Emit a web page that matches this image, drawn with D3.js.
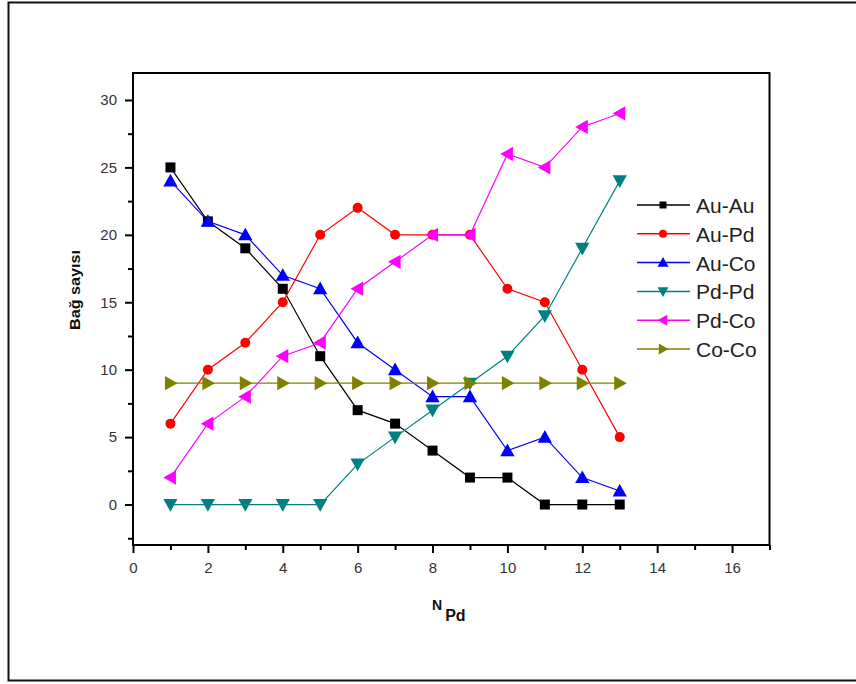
<!DOCTYPE html>
<html><head><meta charset="utf-8">
<script src="https://cdn.jsdelivr.net/npm/d3@7"></script>
<style>body{margin:0;background:#fff}svg{display:block}text{font-family:Arial,"Liberation Sans",sans-serif}</style>
</head><body>
<script>
const xValues = [1,2,3,4,5,6,7,8,9,10,11,12,13];
const auAu = [25,21,19,16,11,7,6,4,2,2,0,0,0];
const auPd = [6,10,12,15,20,22,20,20,20,16,15,10,5];
const auCo = [24,21,20,17,16,12,10,8,8,4,5,2,1];
const pdPd = [0,0,0,0,0,3,5,7,9,11,14,19,24];
const pdCo = [2,6,8,11,12,16,18,20,20,26,25,28,29];
const coCo = [9,9,9,9,9,9,9,9,9,9,9,9,9];
const seriesNames = ["Au-Au","Au-Pd","Au-Co","Pd-Pd","Pd-Co","Co-Co"];
const seriesColors = ["#000000","#ff0000","#0000ff","#008080","#ff00ff","#808000"];
const seriesSymbols = ["square","circle","up","down","left","right"];
const seriesData = [auAu,auPd,auCo,pdPd,pdCo,coCo];
const xTicks = [0,2,4,6,8,10,12,14,16];
const yTicks = [0,5,10,15,20,25,30];

const W=856,H=684;
const svg=d3.select("body").append("svg").attr("width",W).attr("height",H);
svg.append("rect").attr("width",W).attr("height",H).attr("fill","#fff");
// outer frame
svg.append("path").attr("d","M860,2.5 H8.5 V680.5 H860").attr("fill","none").attr("stroke","#111").attr("stroke-width",2);

const L=133,R=769.5,T=73,B=545;
const x=d3.scaleLinear().domain([0,17]).range([L,R]);
const y=d3.scaleLinear().domain([-3,32]).range([B,T]);

// frame box
svg.append("rect").attr("x",L).attr("y",T).attr("width",R-L).attr("height",B-T)
  .attr("fill","none").attr("stroke","#000").attr("stroke-width",2);

// x axis
const gx=svg.append("g").attr("transform",`translate(0,${B})`);
gx.call(d3.axisBottom(x).tickValues(xTicks).tickSize(8).tickPadding(9).tickFormat(d3.format("d")));
gx.append("g").call(d3.axisBottom(x).tickValues([1,3,5,7,9,11,13,15,17]).tickSize(5).tickFormat(""));
// y axis
const gy=svg.append("g").attr("transform",`translate(${L},0)`);
gy.call(d3.axisLeft(y).tickValues(yTicks).tickSize(8).tickPadding(8).tickFormat(d3.format("d")));
gy.append("g").call(d3.axisLeft(y).tickValues([-2.5,2.5,7.5,12.5,17.5,22.5,27.5]).tickSize(5).tickFormat(""));
svg.selectAll(".domain").remove();
svg.selectAll(".tick line").attr("stroke","#000").attr("stroke-width",2);
svg.selectAll(".tick text").attr("font-size",15).attr("fill","#333").attr("font-family","Arial, 'Liberation Sans', sans-serif");

function symPath(type,s){
  const h=s/2;
  if(type==="square") return `M${-h},${-h}H${h}V${h}H${-h}Z`;
  if(type==="up") return `M0,${-h*1.1}L${h*1.1},${h*0.85}L${-h*1.1},${h*0.85}Z`;
  if(type==="down") return `M0,${h*1.1}L${h*1.1},${-h*0.85}L${-h*1.1},${-h*0.85}Z`;
  if(type==="left") return `M${-h*1.1},0L${h*0.85},${-h*1.1}L${h*0.85},${h*1.1}Z`;
  if(type==="right") return `M${h*1.1},0L${-h*0.85},${-h*1.1}L${-h*0.85},${h*1.1}Z`;
  return null;
}
function drawSym(g,type,cx,cy,s,color){
  if(type==="circle") g.append("circle").attr("cx",cx).attr("cy",cy).attr("r",s/2).attr("fill",color);
  else g.append("path").attr("d",symPath(type,s)).attr("transform",`translate(${cx},${cy})`).attr("fill",color);
}

const line=d3.line().x((d,i)=>x(xValues[i])).y(d=>y(d));
const plot=svg.append("g");
seriesData.forEach((vals,k)=>{
  plot.append("path").datum(vals).attr("d",line).attr("fill","none").attr("stroke",seriesColors[k]).attr("stroke-width",1.2);
});
seriesData.forEach((vals,k)=>{
  const size = seriesSymbols[k]==="square"?10:(seriesSymbols[k]==="circle"?10:13);
  vals.forEach((v,i)=>drawSym(plot,seriesSymbols[k],x(xValues[i]),y(v),size,seriesColors[k]));
});

// legend
const lg=svg.append("g");
seriesNames.forEach((n,k)=>{
  const yy=205+k*28.8;
  lg.append("line").attr("x1",637).attr("x2",690).attr("y1",yy).attr("y2",yy).attr("stroke",seriesColors[k]).attr("stroke-width",1.5);
  const size = seriesSymbols[k]==="square"?7:(seriesSymbols[k]==="circle"?8:10);
  drawSym(lg,seriesSymbols[k],663,yy,size,seriesColors[k]);
  lg.append("text").attr("x",696).attr("y",yy+8).attr("font-size",21).attr("fill","#222").text(n);
});

// axis titles
svg.append("text").attr("transform","translate(80,290) rotate(-90)").attr("text-anchor","middle")
  .attr("font-size",14).attr("font-weight","bold").attr("fill","#111").attr("textLength",80).attr("lengthAdjust","spacingAndGlyphs").text("Bağ sayısı");
const xt=svg.append("text").attr("x",432).attr("y",610).attr("font-weight","bold").attr("fill","#111");
xt.append("tspan").attr("font-size",14).text("N");
xt.append("tspan").attr("font-size",16).attr("dx",3).attr("dy",11).text("Pd");
</script>
</body></html>
